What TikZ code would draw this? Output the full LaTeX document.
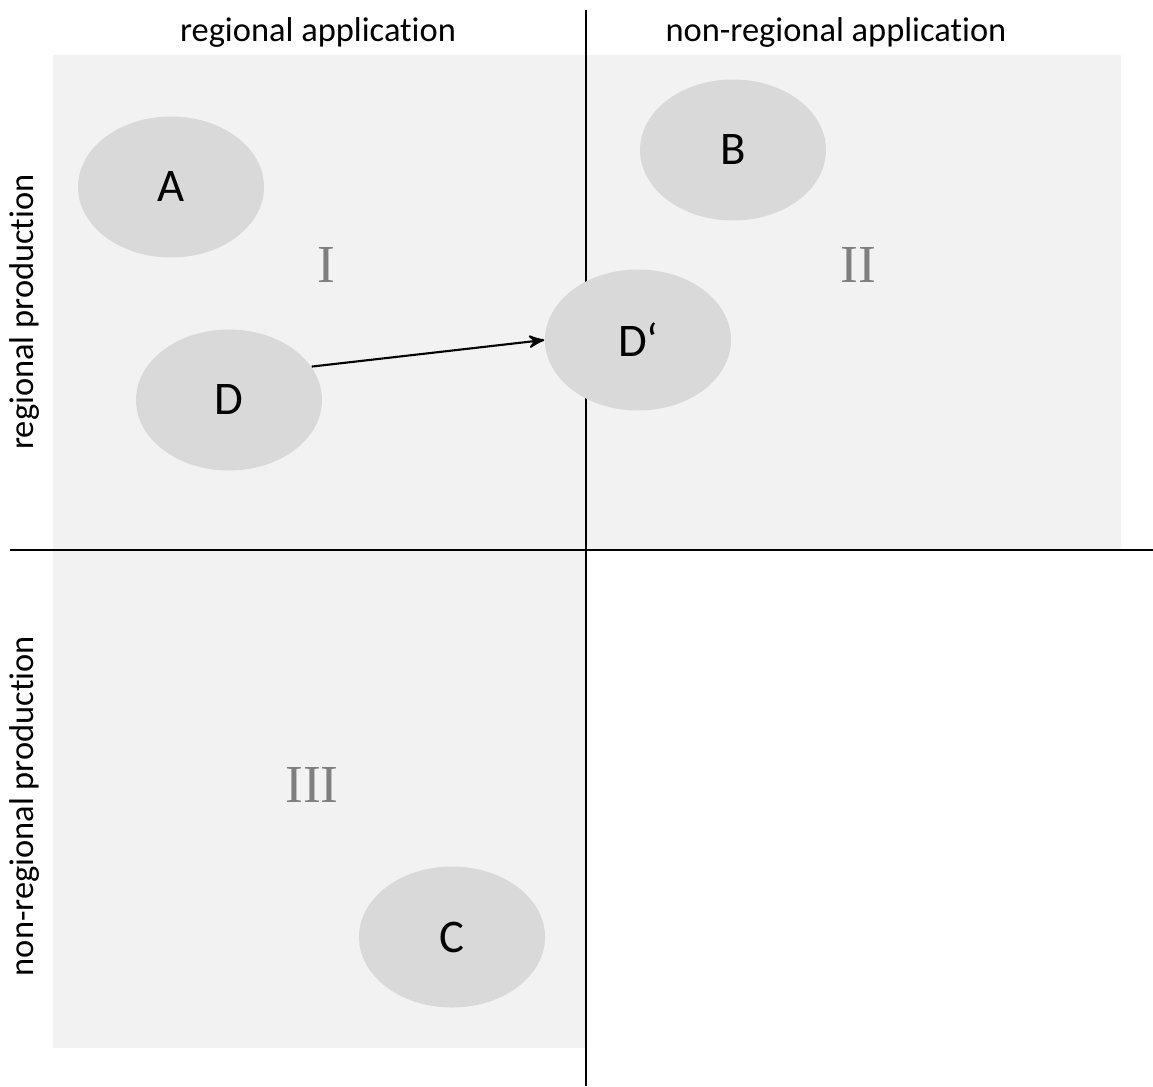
\documentclass[tikz,border=0pt]{standalone}
\usepackage{fontspec}
\setmainfont{Carlito}[Ligatures={TeX,NoCommon}]
\newfontfamily\numfont{Liberation Serif}
\usepackage{tikz}
\usetikzlibrary{arrows,positioning,shapes}
\definecolor{quadgray}{HTML}{F2F2F2}
\definecolor{blobgray}{HTML}{D9D9D9}
\definecolor{numgray}{HTML}{7F7F7F}
\tikzset{
    %Define standard arrow tip
    >=stealth',
    %Define style for the grey blobs
    blobnode/.style={
             ellipse,
             fill=blobgray, draw=none,
             minimum width=1.86cm, minimum height=1.41cm,
             inner sep=0pt,
             font=\fontsize{13.3}{15}\selectfont},
    %Define style for the quadrant numbers
    numnode/.style={
             text=numgray,
             font=\numfont\fontsize{15.2}{18}\selectfont},
    %Define style for the axis labels
    axisnode/.style={
             font=\fontsize{9.8}{12}\selectfont},
    % Define line styles
    axisline/.style={
            line width=0.45pt},
    movearrow/.style={
            ->,
            line width=0.6pt}
}
\begin{document}
\begin{tikzpicture}
 \useasboundingbox (0,0) rectangle (11.53,-10.86);
 % quadrant fields
 \fill[quadgray] (0.53,-0.55) rectangle (11.21,-5.50);
 \fill[quadgray] (0.53,-5.50) rectangle (5.86,-10.48);
 % axes
 \draw[axisline] (5.86,-0.10) -- (5.86,-10.86);
 \draw[axisline] (0.10,-5.50) -- (11.53,-5.50);
 % axis labels
 \node[axisnode] (regapp) at (3.18,-0.33) {regional application};
 \node[axisnode] (nonregapp) at (8.36,-0.33) {non-regional application};
 \node[axisnode, rotate=90] (regprod) at (0.25,-3.12) {regional production};
 \node[axisnode, rotate=90] (nonregprod) at (0.25,-8.06) {non-regional production};
 % quadrant numbers
 \node[numnode] (qI) at (3.26,-2.65) {I};
 \node[numnode] (qII) at (8.58,-2.65) {II};
 \node[numnode] (qIII) at (3.12,-7.85) {III};
 % blobs
 \node[blobnode] (A) at (1.71,-1.87) {A};
 \node[blobnode] (B) at (7.33,-1.50) {B};
 \node[blobnode] (D) at (2.29,-4.00) {D};
 \node[blobnode] (Dp) at (6.38,-3.40) {D‘};
 \node[blobnode] (C) at (4.52,-9.37) {C};
 \draw[movearrow] (D.22) -- (Dp.west);
\end{tikzpicture}
\end{document}
